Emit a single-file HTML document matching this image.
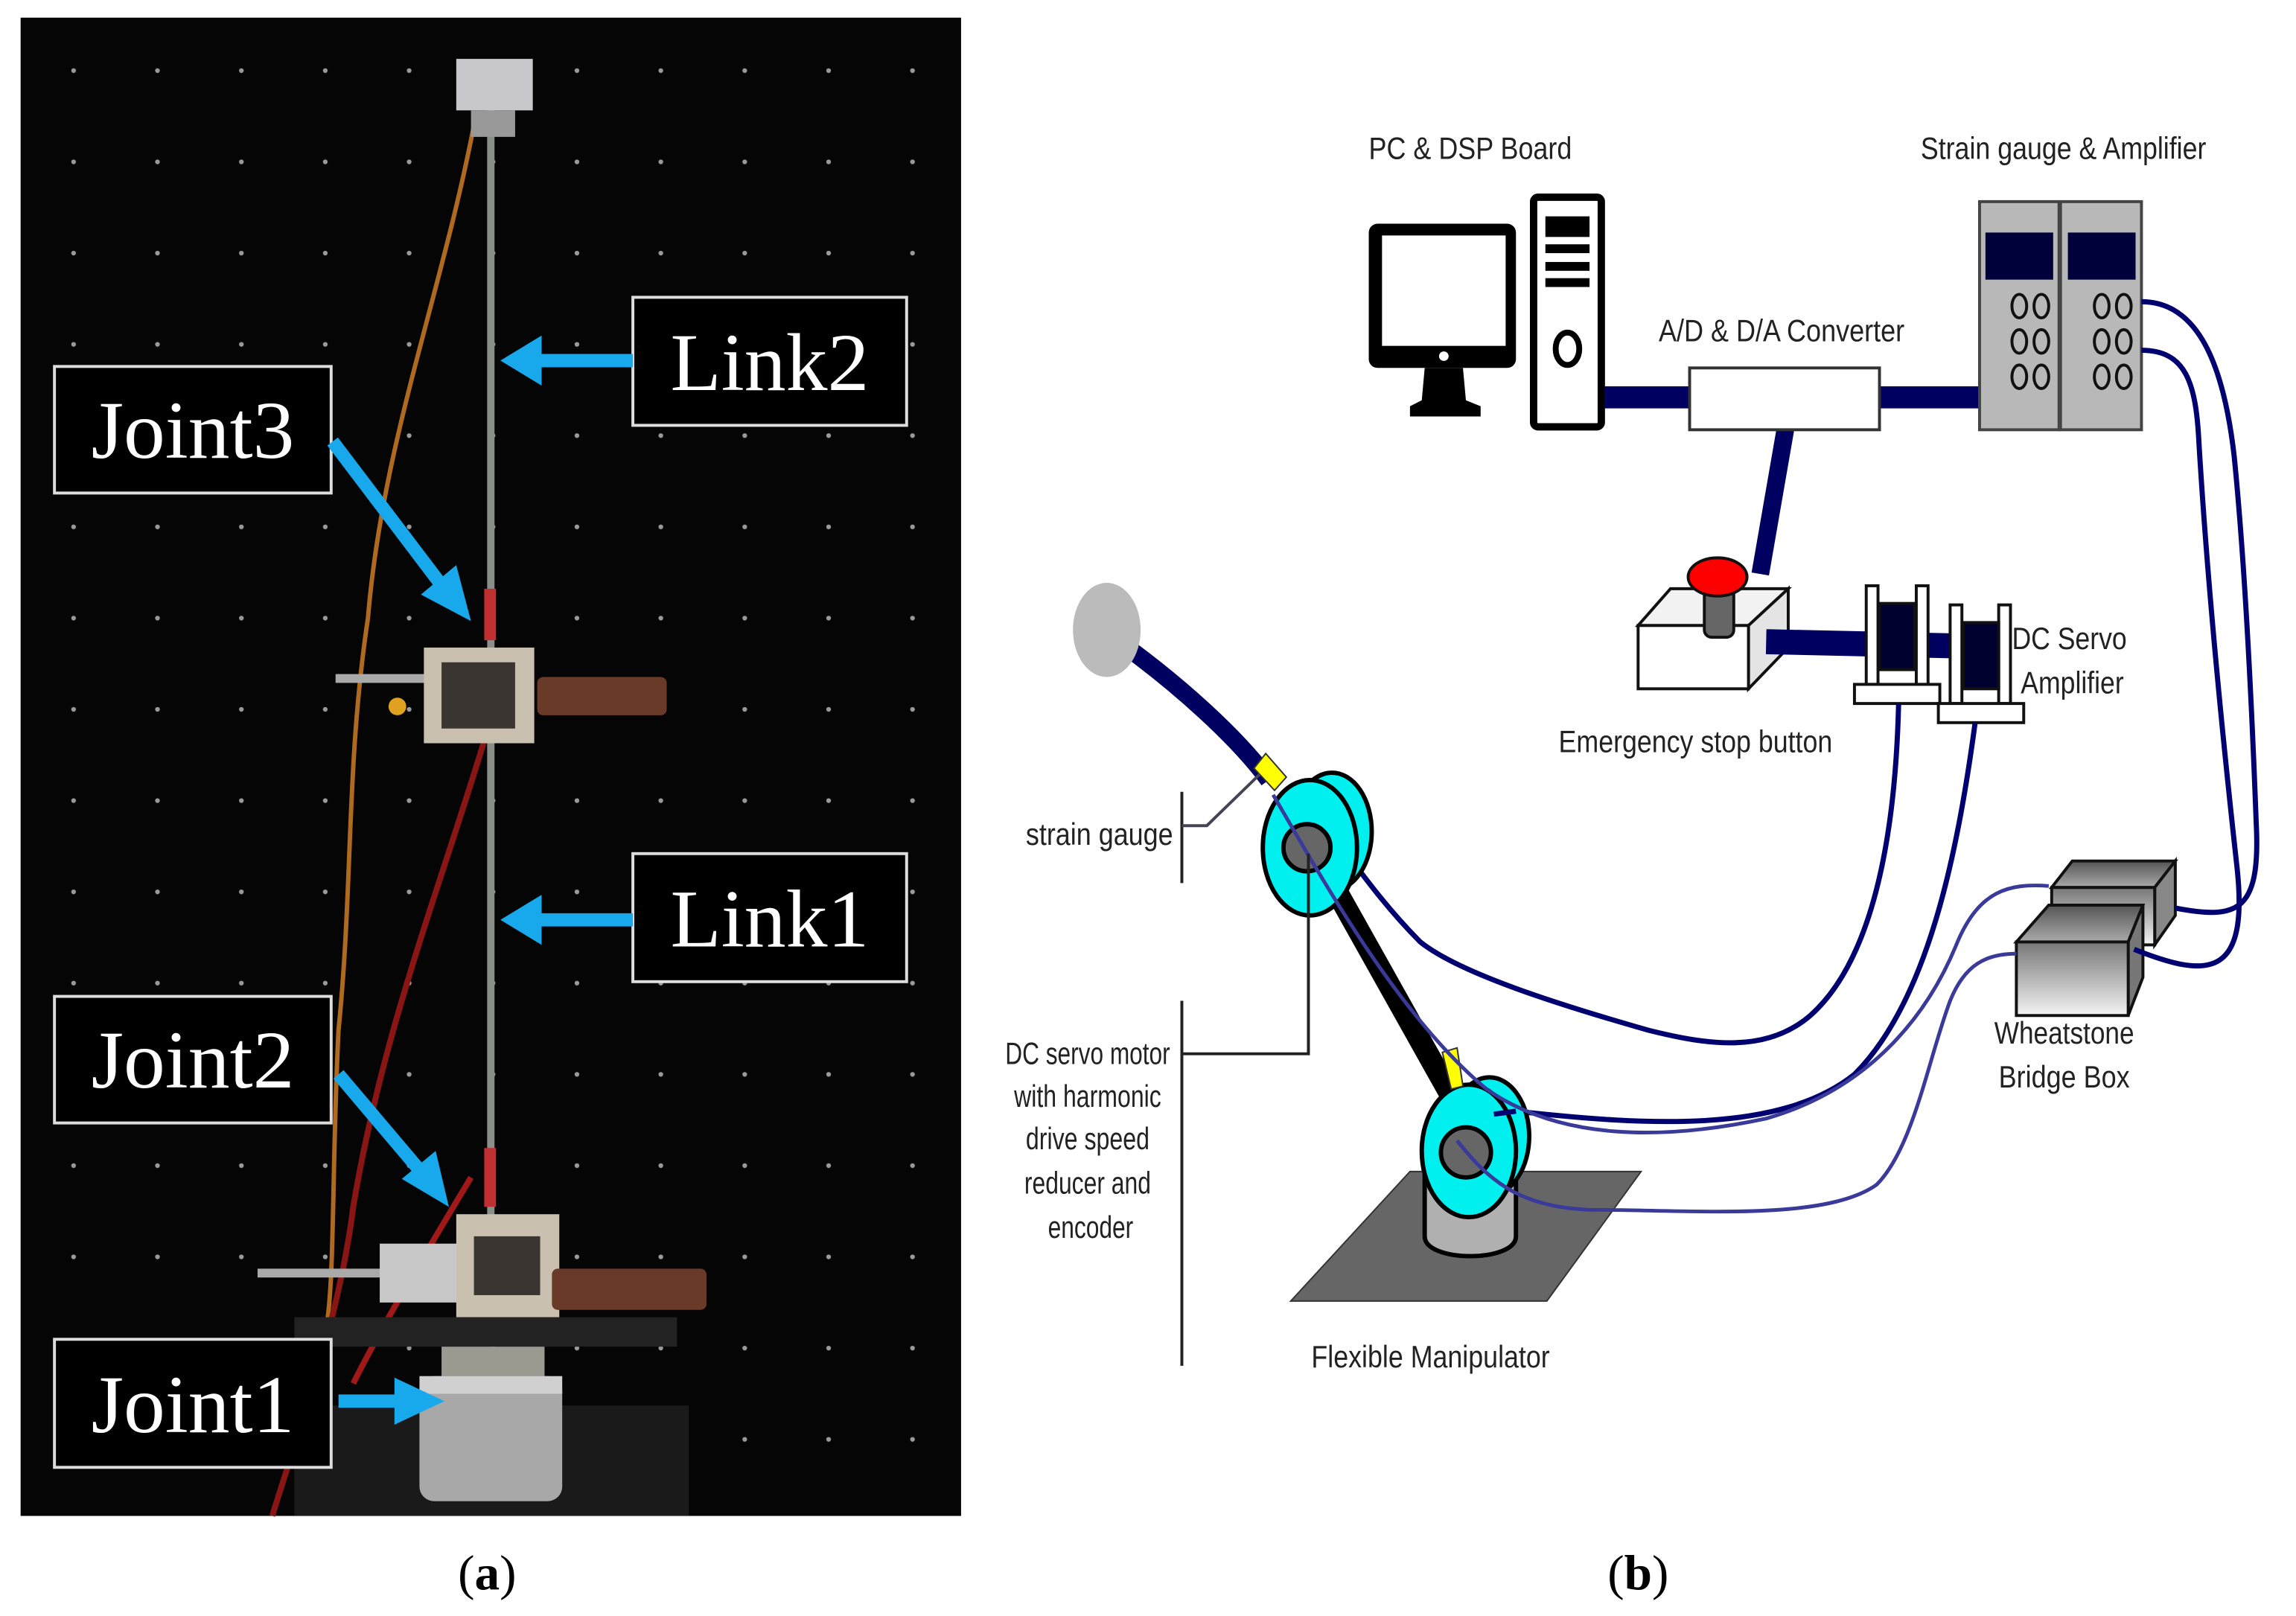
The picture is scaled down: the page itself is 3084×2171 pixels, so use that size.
<!DOCTYPE html>
<html><head><meta charset="utf-8">
<style>
html,body{margin:0;padding:0;background:#fff;}
svg{display:block;}
.t{font-family:"Liberation Sans",sans-serif;font-size:21px;fill:#222;}
.j{font-family:"Liberation Serif",serif;font-size:56px;fill:#fff;}
</style></head><body>
<svg width="3084" height="2171" viewBox="0 0 1560 1098" preserveAspectRatio="none" xmlns="http://www.w3.org/2000/svg">
<defs>
<pattern id="dots" x="20" y="20" width="57" height="62" patternUnits="userSpaceOnUse">
<circle cx="30" cy="28" r="1.6" fill="#9a9a9a"/>
</pattern>
<linearGradient id="wg" x1="0" y1="0" x2="0" y2="1"><stop offset="0" stop-color="#777"/><stop offset="1" stop-color="#f4f4f4"/></linearGradient>
<linearGradient id="wt" x1="0" y1="0" x2="0" y2="1"><stop offset="0" stop-color="#555"/><stop offset="1" stop-color="#aaa"/></linearGradient>
</defs>
<rect width="1560" height="1098" fill="#fff"/>
<!-- Photo panel -->
<rect x="14" y="12" width="639" height="1018" fill="#050505"/>
<rect x="14" y="12" width="639" height="1018" fill="url(#dots)"/>
<path d="M322 85 C300 200 260 300 250 420 C235 520 240 600 230 700 C225 800 228 880 220 910" stroke="#b06a20" stroke-width="3" fill="none"/>
<path d="M330 500 C300 600 260 700 240 820 C230 900 200 980 185 1030" stroke="#8a1515" stroke-width="4" fill="none"/>
<path d="M320 800 C290 850 260 900 240 940" stroke="#a01818" stroke-width="4" fill="none"/>
<rect x="331" y="70" width="5" height="820" fill="#8a8f8a"/>
<rect x="310" y="40" width="52" height="35" fill="#c8c8cc"/>
<rect x="320" y="75" width="30" height="18" fill="#999"/>
<rect x="329" y="400" width="8" height="35" fill="#c03030"/>
<rect x="329" y="780" width="8" height="40" fill="#c03030"/>
<rect x="228" y="458" width="70" height="6" fill="#aaa"/>
<rect x="288" y="440" width="75" height="65" fill="#c9c0b0"/>
<rect x="300" y="450" width="50" height="45" fill="#3a3530"/>
<rect x="365" y="460" width="88" height="26" rx="4" fill="#6a3a28"/>
<circle cx="270" cy="480" r="6" fill="#e0a020"/>
<rect x="175" y="862" width="90" height="6" fill="#aaa"/>
<rect x="258" y="845" width="55" height="40" fill="#c8c8c8"/>
<rect x="310" y="825" width="70" height="70" fill="#c9c0b0"/>
<rect x="322" y="840" width="45" height="40" fill="#3a3530"/>
<rect x="375" y="862" width="105" height="28" rx="4" fill="#6a3a28"/>
<rect x="200" y="895" width="260" height="20" fill="#222"/>
<rect x="200" y="955" width="268" height="75" fill="#1a1a1a"/>
<rect x="300" y="915" width="70" height="20" fill="#9a9a90"/>
<rect x="285" y="935" width="97" height="85" rx="10" fill="#a8a8a8"/>
<rect x="285" y="935" width="97" height="12" fill="#d0d0d0"/>
<g stroke="#ddd" stroke-width="2" fill="#000">
<rect x="430" y="202" width="186" height="87"/>
<rect x="37" y="249" width="188" height="86"/>
<rect x="430" y="580" width="186" height="87"/>
<rect x="37" y="677" width="188" height="86"/>
<rect x="37" y="910" width="188" height="87"/>
</g>
<text class="j" x="523" y="265" text-anchor="middle" textLength="135" lengthAdjust="spacingAndGlyphs">Link2</text>
<text class="j" x="131" y="311" text-anchor="middle" textLength="138" lengthAdjust="spacingAndGlyphs">Joint3</text>
<text class="j" x="523" y="643" text-anchor="middle" textLength="135" lengthAdjust="spacingAndGlyphs">Link1</text>
<text class="j" x="131" y="739" text-anchor="middle" textLength="138" lengthAdjust="spacingAndGlyphs">Joint2</text>
<text class="j" x="131" y="973" text-anchor="middle" textLength="138" lengthAdjust="spacingAndGlyphs">Joint1</text>
<g stroke="#18a8ec" stroke-width="9" fill="#18a8ec">
<line x1="430" y1="245" x2="365" y2="245"/>
<line x1="430" y1="625" x2="365" y2="625"/>
<line x1="226" y1="300" x2="298" y2="395"/>
<line x1="230" y1="730" x2="285" y2="795"/>
<line x1="230" y1="952" x2="270" y2="952"/>
</g>
<g fill="#18a8ec">
<polygon points="340,245 368,228 368,262"/>
<polygon points="340,625 368,608 368,642"/>
<polygon points="320,422 286,404 310,384"/>
<polygon points="305,820 273,801 296,782"/>
<polygon points="302,952 268,936 268,968"/>
</g>
<text x="331" y="1080" text-anchor="middle" font-family="Liberation Serif,serif" font-size="34" fill="#000">(<tspan font-weight="bold">a</tspan>)</text>
<text x="1113" y="1080" text-anchor="middle" font-family="Liberation Serif,serif" font-size="34" fill="#000">(<tspan font-weight="bold">b</tspan>)</text>

<text class="t" x="930" y="108" textLength="138" lengthAdjust="spacingAndGlyphs">PC &amp; DSP Board</text>
<text class="t" x="1305" y="108" textLength="194" lengthAdjust="spacingAndGlyphs">Strain gauge &amp; Amplifier</text>
<text class="t" x="1127" y="232" textLength="167" lengthAdjust="spacingAndGlyphs">A/D &amp; D/A Converter</text>
<text class="t" x="1059" y="511" textLength="186" lengthAdjust="spacingAndGlyphs">Emergency stop button</text>
<text class="t" x="1367" y="441" textLength="78" lengthAdjust="spacingAndGlyphs">DC Servo</text>
<text class="t" x="1373" y="471" textLength="70" lengthAdjust="spacingAndGlyphs">Amplifier</text>
<text class="t" x="1355" y="709" textLength="95" lengthAdjust="spacingAndGlyphs">Wheatstone</text>
<text class="t" x="1358" y="739" textLength="89" lengthAdjust="spacingAndGlyphs">Bridge Box</text>
<text class="t" x="891" y="929" textLength="162" lengthAdjust="spacingAndGlyphs">Flexible Manipulator</text>
<text class="t" x="697" y="574" textLength="100" lengthAdjust="spacingAndGlyphs">strain gauge</text>
<text class="t" x="683" y="723" textLength="112" lengthAdjust="spacingAndGlyphs">DC servo motor</text>
<text class="t" x="689" y="752" textLength="100" lengthAdjust="spacingAndGlyphs">with harmonic</text>
<text class="t" x="697" y="781" textLength="84" lengthAdjust="spacingAndGlyphs">drive speed</text>
<text class="t" x="696" y="811" textLength="86" lengthAdjust="spacingAndGlyphs">reducer and</text>
<text class="t" x="712" y="841" textLength="58" lengthAdjust="spacingAndGlyphs">encoder</text>

<rect x="930" y="152" width="100" height="98" rx="6" fill="#000"/>
<rect x="939" y="160" width="84" height="75" fill="#fff"/>
<circle cx="981" cy="242" r="4" fill="#fff" stroke="#000" stroke-width="1.5"/>
<polygon points="968,250 994,250 996,272 1006,276 1006,283 958,283 958,276 966,272" fill="#000"/>
<rect x="1042" y="134" width="46" height="156" rx="3" fill="#fff" stroke="#000" stroke-width="5"/>
<rect x="1050" y="147" width="30" height="14" fill="#000"/>
<rect x="1050" y="166" width="30" height="6" fill="#000"/>
<rect x="1050" y="178" width="30" height="6" fill="#000"/>
<rect x="1050" y="189" width="30" height="6" fill="#000"/>
<ellipse cx="1065" cy="237" rx="8" ry="11" fill="#fff" stroke="#000" stroke-width="4"/>
<g stroke="#000060" fill="none">
<line x1="1090" y1="270" x2="1148" y2="270" stroke-width="15"/>
<line x1="1277" y1="270" x2="1345" y2="270" stroke-width="15"/>
<line x1="1213" y1="292" x2="1196" y2="390" stroke-width="12"/>
</g>
<rect x="1148" y="250" width="129" height="42" fill="#fff" stroke="#333" stroke-width="2"/>
<g stroke="#444" stroke-width="2">
<rect x="1345" y="137" width="54" height="155" fill="#b8b8b8"/>
<rect x="1400" y="137" width="55" height="155" fill="#b8b8b8"/>
</g>
<rect x="1349" y="158" width="46" height="32" fill="#00003a"/>
<rect x="1405" y="158" width="46" height="32" fill="#00003a"/>
<g fill="none" stroke="#111" stroke-width="2">
<ellipse cx="1372" cy="208" rx="5" ry="8"/><ellipse cx="1387" cy="208" rx="5" ry="8"/>
<ellipse cx="1372" cy="232" rx="5" ry="8"/><ellipse cx="1387" cy="232" rx="5" ry="8"/>
<ellipse cx="1372" cy="256" rx="5" ry="8"/><ellipse cx="1387" cy="256" rx="5" ry="8"/>
<ellipse cx="1428" cy="208" rx="5" ry="8"/><ellipse cx="1443" cy="208" rx="5" ry="8"/>
<ellipse cx="1428" cy="232" rx="5" ry="8"/><ellipse cx="1443" cy="232" rx="5" ry="8"/>
<ellipse cx="1428" cy="256" rx="5" ry="8"/><ellipse cx="1443" cy="256" rx="5" ry="8"/>
</g>
<polygon points="1113,425 1135,400 1215,400 1188,425" fill="#f2f2f2" stroke="#111" stroke-width="2"/>
<polygon points="1188,425 1215,400 1215,440 1188,468" fill="#e4e4e4" stroke="#111" stroke-width="2"/>
<rect x="1113" y="425" width="75" height="43" fill="#fff" stroke="#111" stroke-width="2"/>
<rect x="1158" y="395" width="20" height="38" rx="5" fill="#666" stroke="#111" stroke-width="2"/>
<ellipse cx="1167" cy="392" rx="20" ry="13" fill="#f00" stroke="#111" stroke-width="2"/>
<line x1="1200" y1="436" x2="1335" y2="439" stroke="#000060" stroke-width="17"/>
<g stroke="#111" stroke-width="2">
<rect x="1268" y="398" width="8" height="67" fill="#fff"/>
<rect x="1302" y="398" width="8" height="67" fill="#fff"/>
<rect x="1277" y="410" width="24" height="45" fill="#000030"/>
<rect x="1260" y="465" width="58" height="13" fill="#fff"/>
<rect x="1325" y="411" width="8" height="67" fill="#fff"/>
<rect x="1358" y="411" width="8" height="67" fill="#fff"/>
<rect x="1334" y="423" width="24" height="45" fill="#000030"/>
<rect x="1317" y="478" width="58" height="13" fill="#fff"/>
</g>
<polygon points="1394,603 1408,585 1478,585 1464,603" fill="url(#wt)" stroke="#111" stroke-width="2"/>
<polygon points="1464,603 1478,585 1478,622 1464,642" fill="#888" stroke="#111" stroke-width="2"/>
<rect x="1394" y="603" width="70" height="39" fill="url(#wg)" stroke="#111" stroke-width="2"/>
<polygon points="1370,640 1392,615 1456,615 1446,640" fill="url(#wt)" stroke="#111" stroke-width="2"/>
<polygon points="1446,640 1456,615 1456,664 1446,690" fill="#777" stroke="#111" stroke-width="2"/>
<rect x="1370" y="640" width="76" height="50" fill="url(#wg)" stroke="#111" stroke-width="2"/>
<g stroke="#000070" stroke-width="3.5" fill="none">
<path d="M1455 205 C1490 205 1510 240 1518 310 C1525 380 1530 480 1533 560 C1536 620 1520 625 1478 617"/>
<path d="M1455 238 C1485 238 1492 260 1494 300 C1500 400 1510 500 1520 590 C1528 665 1500 665 1450 645"/>
<path d="M1290 478 C1288 560 1275 650 1230 690 C1200 716 1160 710 1120 700 C1050 680 990 660 965 640 C945 620 930 600 915 580"/>
<path d="M1342 491 C1330 580 1310 680 1260 730 C1210 770 1120 765 1030 755"/>
</g>
<path d="M766 440 C800 465 840 500 862 530" stroke="#000060" stroke-width="12" fill="none"/>
<ellipse cx="752" cy="428" rx="23" ry="32" fill="#bbb"/>
<line x1="905" y1="600" x2="988" y2="748" stroke="#000" stroke-width="15"/>
<polygon points="877,884 958,796 1115,796 1051,884" fill="#666" stroke="#333" stroke-width="1"/>
<path d="M968 795 L968 840 C968 858 1030 858 1030 840 L1030 795" fill="#b0b0b0" stroke="#000" stroke-width="3"/>
<ellipse cx="1012" cy="772" rx="27" ry="40" fill="#00f0f0" stroke="#000" stroke-width="3"/>
<ellipse cx="998" cy="782" rx="32" ry="45" fill="#00f0f0" stroke="#000" stroke-width="3"/>
<circle cx="996" cy="783" r="17" fill="#666" stroke="#000" stroke-width="3"/>
<ellipse cx="905" cy="565" rx="27" ry="40" fill="#00f0f0" stroke="#000" stroke-width="3"/>
<ellipse cx="890" cy="576" rx="32" ry="46" fill="#00f0f0" stroke="#000" stroke-width="3"/>
<circle cx="888" cy="576" r="16" fill="#666" stroke="#000" stroke-width="3"/>
<polygon points="852,522 860,512 874,528 866,537" fill="#ff0" stroke="#333" stroke-width="1"/>
<polygon points="980,715 990,712 994,738 986,740" fill="#ff0" stroke="#333" stroke-width="1"/>
<g stroke="#3a3a9a" stroke-width="2.5" fill="none">
<path d="M865 540 C900 600 950 690 1010 740 C1060 775 1130 775 1200 760 C1270 740 1310 690 1330 640 C1345 605 1365 600 1392 602"/>
<path d="M990 775 C1010 800 1030 820 1080 822 C1150 822 1240 830 1275 805 C1300 780 1310 720 1325 680 C1335 655 1350 648 1370 648"/>
</g>
<g stroke="#000070" stroke-width="3.5" fill="none">
<path d="M1030 755 L1015 757"/>
</g>
<g stroke="#222" stroke-width="2" fill="none">
<line x1="803" y1="538" x2="803" y2="600"/>
<polyline points="803,561 820,561 856,526" stroke="#445"/>
<line x1="803" y1="680" x2="803" y2="928"/>
<polyline points="803,716 889,716 889,580"/>
</g>
</svg>
</body></html>
